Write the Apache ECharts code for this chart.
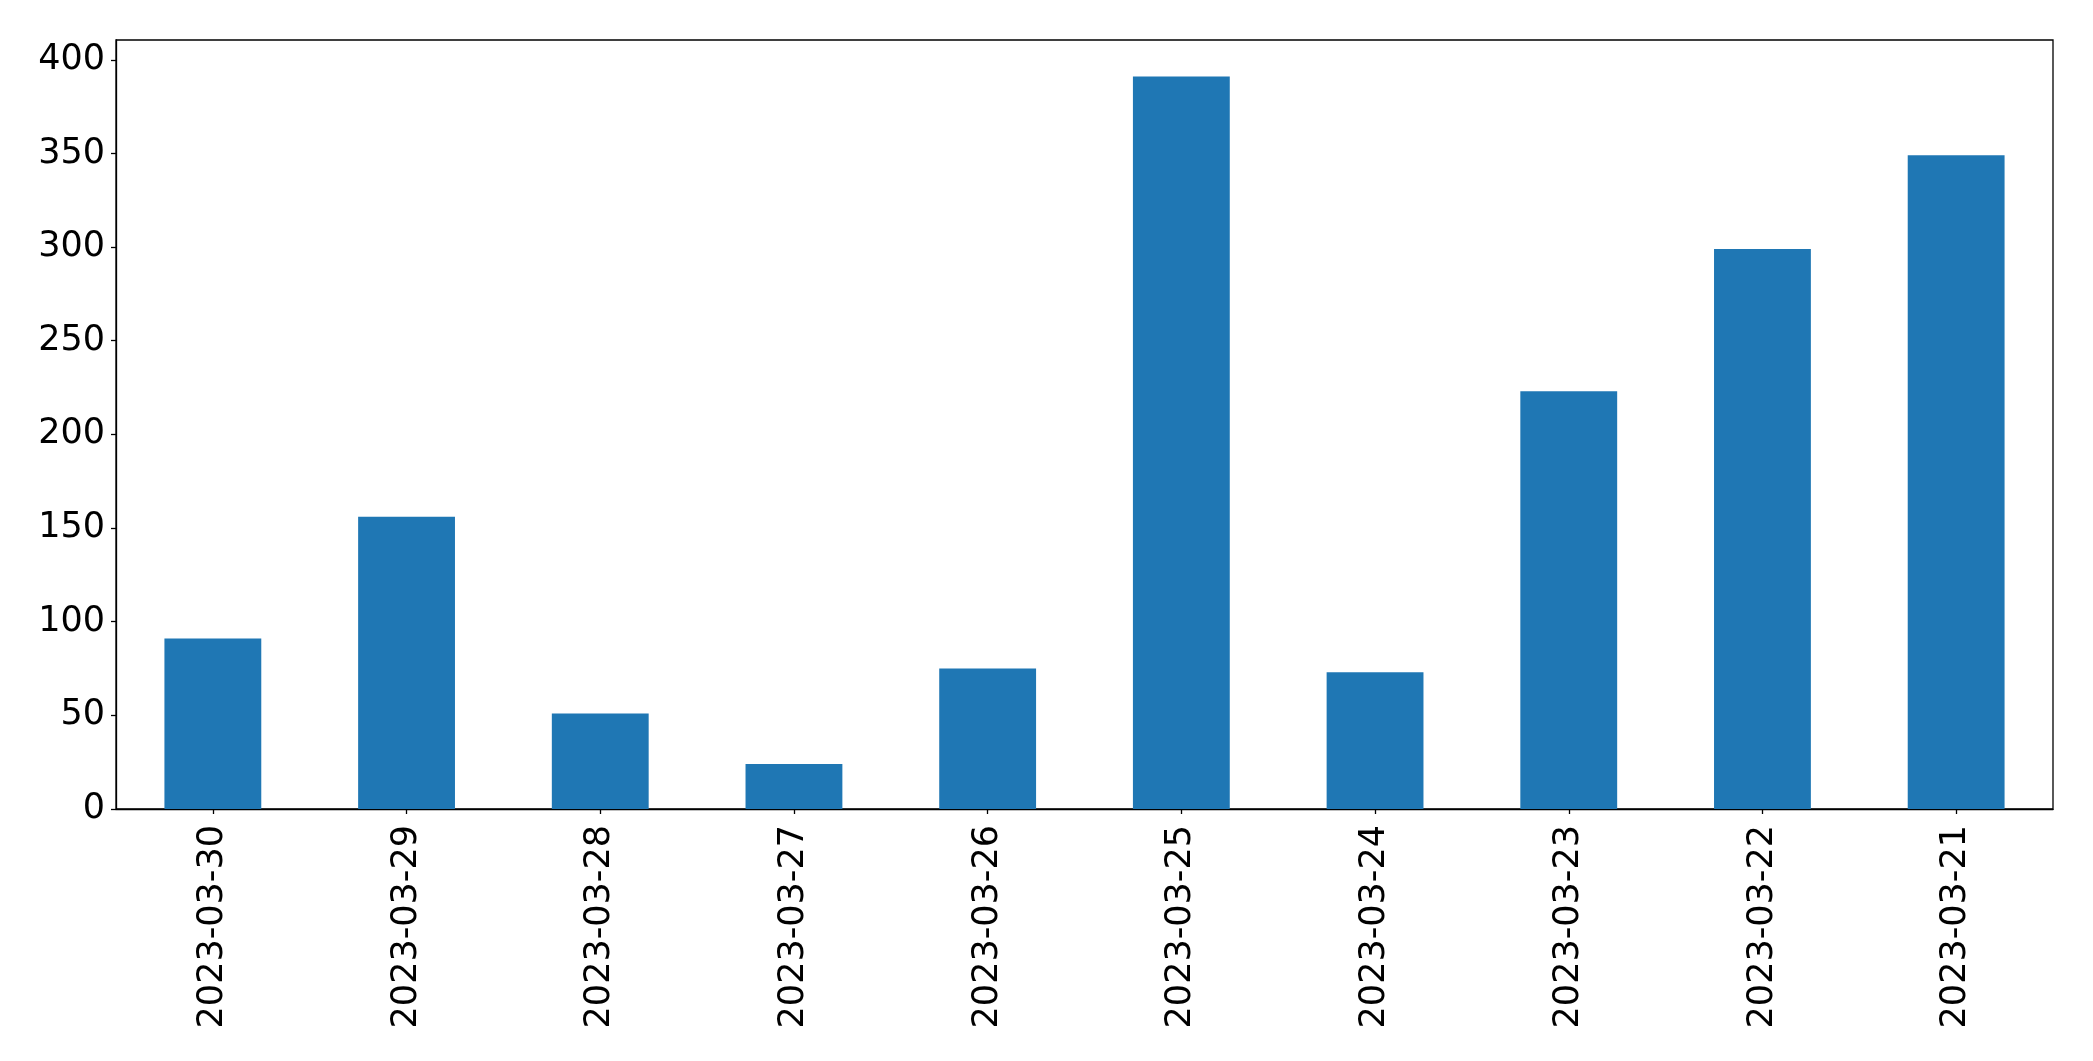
<!DOCTYPE html>
<html>
<head>
<meta charset="utf-8">
<script src="https://cdn.jsdelivr.net/npm/echarts@6/dist/echarts.min.js"></script>
<style>
html,body{margin:0;padding:0;background:#fff;}
#chart{width:2093px;height:1061px;}
</style>
</head>
<body>
<div id="chart"></div>
<script>
const categories = ["2023-03-30","2023-03-29","2023-03-28","2023-03-27","2023-03-26","2023-03-25","2023-03-24","2023-03-23","2023-03-22","2023-03-21"];
const values = [91, 156, 51, 24, 75, 391, 73, 223, 299, 349];
const yTicks = [0, 50, 100, 150, 200, 250, 300, 350, 400];

const yMax = Math.max(...values) * 1.05;
const font = '"DejaVu Sans", sans-serif';
const chart = echarts.init(document.getElementById('chart'), null, {renderer: 'canvas'});
chart.setOption({
  animation: false,
  backgroundColor: '#ffffff',
  grid: {left: 116, right: 40, top: 40, bottom: 252, show: true, borderColor: '#000', borderWidth: 1.3, containLabel: false},
  xAxis: {
    type: 'category',
    data: categories,
    boundaryGap: true,
    axisLine: {show: true, lineStyle: {color: '#000', width: 1.3}},
    axisTick: {show: true, alignWithLabel: true, length: 5, lineStyle: {color: '#000', width: 1.3}},
    axisLabel: {rotate: 90, margin: 16, fontSize: 35, color: '#000', fontFamily: font, interval: 0},
    splitLine: {show: false}
  },
  yAxis: {
    type: 'value',
    min: 0,
    max: yMax,
    interval: 50,
    axisLine: {show: true, lineStyle: {color: '#000', width: 1.3}},
    axisTick: {show: true, length: 5, lineStyle: {color: '#000', width: 1.3}, customValues: yTicks},
    axisLabel: {fontSize: 35, color: '#000', fontFamily: font, margin: 11, padding: [8, 0, 0, 0], customValues: yTicks},
    splitLine: {show: false}
  },
  series: [{
    type: 'bar',
    data: values,
    barWidth: '50%',
    itemStyle: {color: '#1f77b4'}
  }]
});
</script>
</body>
</html>
